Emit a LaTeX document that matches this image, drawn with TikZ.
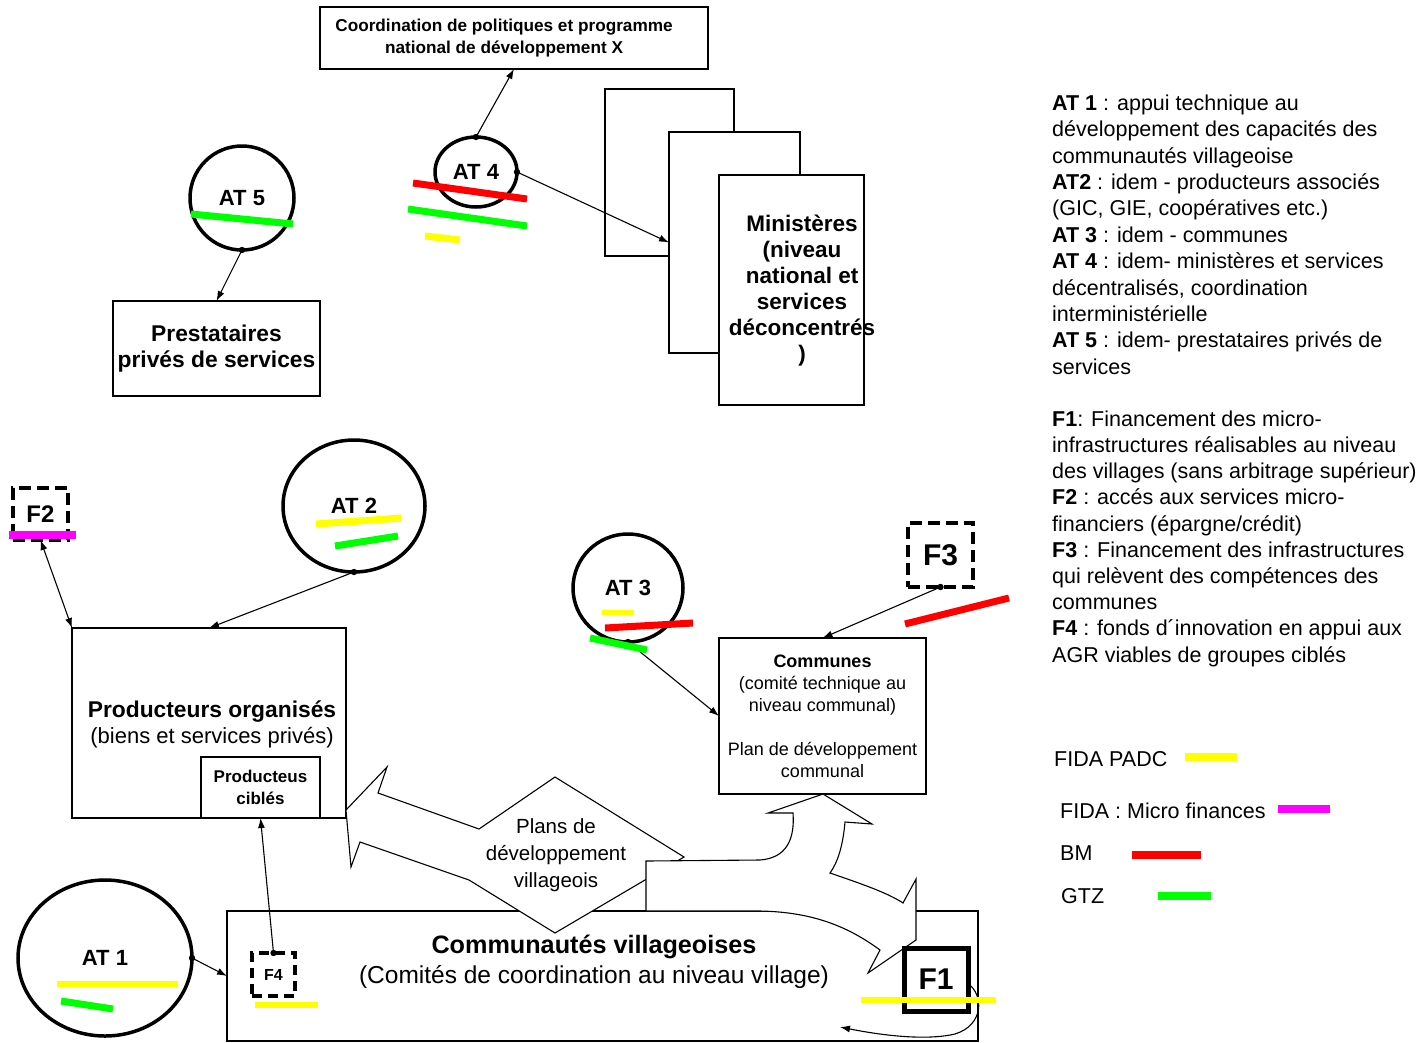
\documentclass[tikz,border=0pt]{standalone}
\usepackage{fontspec}
\setmainfont{Liberation Sans}
\usetikzlibrary{arrows.meta,shapes.geometric}
\newcommand\fsz[2]{\fontsize{#1}{#2}\selectfont}
\definecolor{cyel}{RGB}{255,255,0}
\definecolor{cgrn}{RGB}{0,255,0}
\definecolor{cred}{RGB}{255,0,0}
\definecolor{cmag}{RGB}{255,0,255}
\begin{document}
\begin{tikzpicture}[x=1pt,y=-1pt,
  box/.style={draw, line width=1.2pt, fill=white, inner sep=0pt, outer sep=0pt, align=center},
  atc/.style={draw, ellipse, line width=3.5pt, inner sep=0pt, outer sep=0pt, font=\fsz{22}{26}\bfseries},
  fbox/.style={draw, line width=4pt, dash pattern=on 12pt off 6pt, inner sep=0pt, outer sep=0pt},
  conn/.style={line width=1.1pt, -{Latex[length=10pt,width=7pt]}},
  bar/.style={line width=7pt},
  bigarrow/.style={draw, fill=white, line width=1.1pt, line join=miter},
  legtxt/.style={anchor=west, inner sep=0pt, font=\fsz{21.5}{26}},
]
\path[use as bounding box, fill=white] (0,0) rectangle (1423,1042);

% ministries sheets
\node[box, minimum width=129pt, minimum height=167pt] (sh1) at (669.5,172.5) {};
\node[box, minimum width=131pt, minimum height=221pt] (sh2) at (734.5,242.5) {};
\node[box, minimum width=145pt, minimum height=230pt] (sh3) at (791.5,290) {};
\node[font=\fsz{22.5}{26}\bfseries, align=center, inner sep=0pt] (mintxt) at (802,291)
  {Ministères\\(niveau\\national et\\services\\déconcentrés\\)};

% boxes
\node[box, minimum width=388pt, minimum height=62pt] (coord) at (514,38) {};
\node[font=\fsz{17.2}{22}\bfseries, align=center, inner sep=0pt] (coordtxt) at (504,38)
  {Coordination de politiques et programme\\national de développement X};
\node[box, minimum width=207pt, minimum height=95pt, font=\fsz{22.8}{26}\bfseries] (prest) at (216.5,348.5)
  {Prestataires\\privés de services};
\node[box, minimum width=274pt, minimum height=190pt] (prod) at (209,723) {};
\node[font=\fsz{22}{26}, align=center, inner sep=0pt] (prodtxt) at (212,724)
  {\fsz{22.8}{26}\textbf{Producteurs organisés}\\(biens et services privés)};
\node[box, minimum width=119pt, minimum height=61pt, font=\fsz{17}{22}\bfseries] (cibles) at (260.5,787.5)
  {Producteus\\ciblés};
\node[box, minimum width=207pt, minimum height=156pt, font=\fsz{18}{22}] (comm) at (822.5,716)
  {\textbf{Communes}\\(comité technique au\\niveau communal)\\[22pt]Plan de développement\\communal};
\node[box, minimum width=751pt, minimum height=130pt] (vill) at (602.5,976) {};

% left block arrow with diamond
\path[bigarrow] (346,810) -- (387,767) -- (378,793) -- (479,829) -- (555,777) -- (684,857)
  -- (555,933) -- (469,880) -- (360,842) -- (351,867) -- cycle;
\node[font=\fsz{20.5}{27}, align=center, inner sep=0pt] (plans) at (556,855)
  {Plans de\\développement\\villageois};

% curved block arrow
\path[bigarrow] (646,861) -- (760,860) .. controls (786,858) and (795,840) .. (793,813)
  -- (768,813) -- (823,794) -- (872,824) -- (845,822)
  .. controls (843,845) and (838,862) .. (830,873)
  .. controls (862,884) and (888,893) .. (903,903)
  -- (916,879) -- (916,940) -- (868,973) -- (880,950)
  .. controls (850,928) and (815,912) .. (760,911) -- (646,911) -- cycle;

\node[font=\fsz{24.5}{30}, align=center, inner sep=0pt] (villtxt) at (594,962)
  {\fsz{25.2}{30}\textbf{Communautés villageoises}\\(Comités de coordination au niveau village)};

% AT circles
\node[atc, minimum width=82pt, minimum height=70pt] (at4) at (476,172) {AT 4};
\node[atc, minimum width=104pt, minimum height=104pt] (at5) at (242,198) {AT 5};
\node[atc, minimum width=142pt, minimum height=132pt] (at2) at (354,506) {AT 2};
\node[atc, minimum width=110pt, minimum height=108pt] (at3) at (628,588) {AT 3};
\node[atc, minimum width=174pt, minimum height=156pt] (at1) at (105,958) {AT 1};

% F boxes
\node[fbox, minimum width=55pt, minimum height=52pt, font=\fsz{24}{28}\bfseries] (f2) at (40.5,514) {F2};
\node[fbox, minimum width=65pt, minimum height=64pt, font=\fsz{30}{34}\bfseries] (f3) at (940.5,555) {F3};
\node[fbox, minimum width=43pt, minimum height=43pt, dash pattern=on 10pt off 6pt, font=\fsz{16}{20}\bfseries] (f4) at (273.5,974.5) {F4};
\node[draw, line width=5pt, minimum width=64pt, minimum height=63pt, inner sep=0pt, outer sep=0pt, font=\fsz{30}{34}\bfseries] (f1) at (936,979.5) {F1};

% connectors
\draw[conn] (at4.north) -- (coord.south);
\draw[conn] (at4.east) -- (sh2.west);
\draw[conn] (at5.south) -- (prest.north);
\draw[conn] (at2.south) -- (prod.north);
\draw[line width=1.1pt, {Latex[length=10pt,width=7pt]}-{Latex[length=10pt,width=7pt]}] (f2.south) -- (prod.north west);
\draw[conn] (at3.south) -- (comm.west);
\draw[conn] (f3.south) -- (comm.north);
\draw[conn] (at1.east) -- (vill.west);
\draw[conn] (f4.north) -- (cibles.south);
\coordinate (loopend) at (840,1027);
\draw[conn] ([yshift=-4pt]f1.east) .. controls (984,995) and (984,1025) .. (955,1034)
  .. controls (925,1041) and (880,1035) .. (loopend);

% dots
\foreach \p in {at4.north, at4.east, at5.south, at2.south, at3.south, at1.east, f4.north, f3.south}
  \fill (\p) circle (3.2pt);

% funding bars
\draw[bar, cred] (413,183) -- (527,199);
\draw[bar, cgrn] (408,209) -- (527,226);
\draw[bar, cyel] (425,236) -- (460,240);
\draw[bar, cgrn] (191,214) -- (293,224);
\draw[bar, cyel] (316,524) -- (401,518);
\draw[bar, cgrn] (335,546) -- (398,536);
\draw[bar, cyel, line width=5pt] (602,612) -- (634,612);
\draw[bar, cred] (605,628) -- (693,623);
\draw[bar, cgrn] (590,638) -- (647,650);
\draw[bar, cred] (905,624) -- (1009,598);
\draw[bar, cmag, line width=8pt] (9,535) -- (76,535);
\draw[bar, cyel, line width=6pt] (57,984) -- (178,984);
\draw[bar, cgrn] (61,1001) -- (113,1009);
\draw[bar, cyel, line width=6pt] (255,1005) -- (318,1005);
\draw[bar, cyel, line width=6pt] (861,1000) -- (996,1000);

% legend
\node[anchor=north west, inner sep=0pt, align=left, font=\fsz{21.5}{26.4}] (leg1) at (1052,94.5)
  {\textbf{AT 1} : appui technique au\\développement des capacités des\\communautés villageoise\\\textbf{AT2} : idem - producteurs associés\\(GIC, GIE, coopératives etc.)\\\textbf{AT 3} : idem - communes\\\textbf{AT 4} : idem- ministères et services\\décentralisés, coordination\\interministérielle\\\textbf{AT 5} : idem- prestataires privés de\\services};
\node[anchor=north west, inner sep=0pt, align=left, font=\fsz{21.5}{26.2}] (leg2) at (1052,410.5)
  {\textbf{F1}: Financement des micro-\\infrastructures réalisables au niveau\\des villages (sans arbitrage supérieur)\\\textbf{F2} : accés aux services micro-\\financiers (épargne/crédit)\\\textbf{F3} : Financement des infrastructures\\qui relèvent des compétences des\\communes\\\textbf{F4} : fonds d´innovation en appui aux\\AGR viables de groupes ciblés};

\node[legtxt] (lfida) at (1054,759) {FIDA PADC};
\node[legtxt] (lmicro) at (1060,811) {FIDA : Micro finances};
\node[legtxt] (lbm) at (1060,853) {BM};
\node[legtxt] (lgtz) at (1061,896) {GTZ};
\draw[bar, cyel, line width=8pt] (1185,757) -- (1237,757);
\draw[bar, cmag, line width=8pt] (1278,809) -- (1330,809);
\draw[bar, cred, line width=8pt] (1132,855) -- (1201,855);
\draw[bar, cgrn, line width=8pt] (1158,896) -- (1211,896);
\end{tikzpicture}
\end{document}
